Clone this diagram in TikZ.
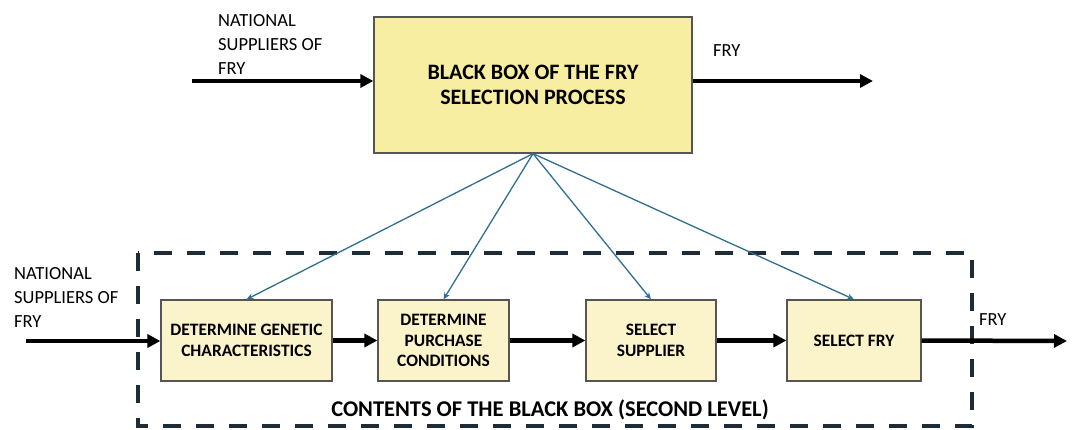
\documentclass[tikz,border=0pt]{standalone}
\usepackage{fontspec}
\setmainfont{Carlito}
\usetikzlibrary{arrows.meta}
\definecolor{topfill}{HTML}{F8EEA2}
\definecolor{subfill}{HTML}{FBF3C9}
\definecolor{boxline}{HTML}{555555}
\definecolor{linkblue}{HTML}{2F6F8F}
\definecolor{dashnavy}{HTML}{1E2C38}
\tikzset{
  mainbox/.style={draw=boxline, line width=1.2pt, fill=topfill, minimum width=318pt, minimum height=136pt,
    align=center, font=\fontsize{22}{25.5}\selectfont\bfseries, inner sep=0pt},
  subbox/.style={draw=boxline, line width=1.2pt, fill=subfill, minimum height=81pt,
    align=center, font=\fontsize{17.4}{20.5}\selectfont\bfseries, inner sep=0pt},
  flow/.style={line width=4.5pt, -{Triangle[length=13pt,width=13pt]}},
  link/.style={linkblue, line width=1.3pt, -{Stealth[length=7pt,width=6pt]}},
  lbl/.style={align=left, font=\fontsize{18.5}{24}\selectfont, inner sep=0pt},
  frame/.style={dashnavy, line width=4.5pt, dash pattern=on 18pt off 15pt}
}
\begin{document}
\begin{tikzpicture}[x=1pt,y=-1pt]
\useasboundingbox (0,0) rectangle (1072,429);

% first level: the black box
\node[mainbox] (top) at (533,85) {BLACK BOX OF THE FRY\\SELECTION PROCESS};
\coordinate (topin) at (192,81);
\coordinate (topout) at (873,81);
\draw[flow] (topin) -- (topin -| top.west);
\draw[flow] (topout -| top.east) -- (topout);
\node[lbl, anchor=west] (suptop) at (218,44) {NATIONAL\\SUPPLIERS OF\\FRY};
\node[lbl, anchor=west] (frytop) at (713,51) {FRY};

% second level: contents of the black box
\draw[frame] (138,253) rectangle (972,426);
\node[font=\fontsize{22.5}{26}\selectfont\bfseries, inner sep=0pt] (contents) at (550,410)
  {CONTENTS OF THE BLACK BOX (SECOND LEVEL)};

\node[subbox, minimum width=171pt] (s1) at (246.5,340.5) {DETERMINE GENETIC\\CHARACTERISTICS};
\node[subbox, minimum width=131pt] (s2) at (443.5,340.5) {DETERMINE\\PURCHASE\\CONDITIONS};
\node[subbox, minimum width=130pt] (s3) at (651,340.5) {SELECT\\SUPPLIER};
\node[subbox, minimum width=134pt] (s4) at (854,340.5) {SELECT FRY};

\coordinate (subin) at (26,341);
\coordinate (subout) at (1067,341);
\draw[flow] (subin) -- (subin -| s1.west);
\draw[flow] (s1) -- (s2);
\draw[flow] (s2) -- (s3);
\draw[flow] (s3) -- (s4);
\draw[flow] (s4.east) -- (subout);
\node[lbl, anchor=west] (supsub) at (14,297) {NATIONAL\\SUPPLIERS OF\\FRY};
\node[lbl, anchor=west] (frysub) at (979,320) {FRY};

% decomposition links
\foreach \s in {s1,s2,s3,s4}
  \draw[link] (top.south) -- (\s.north);
\end{tikzpicture}
\end{document}
